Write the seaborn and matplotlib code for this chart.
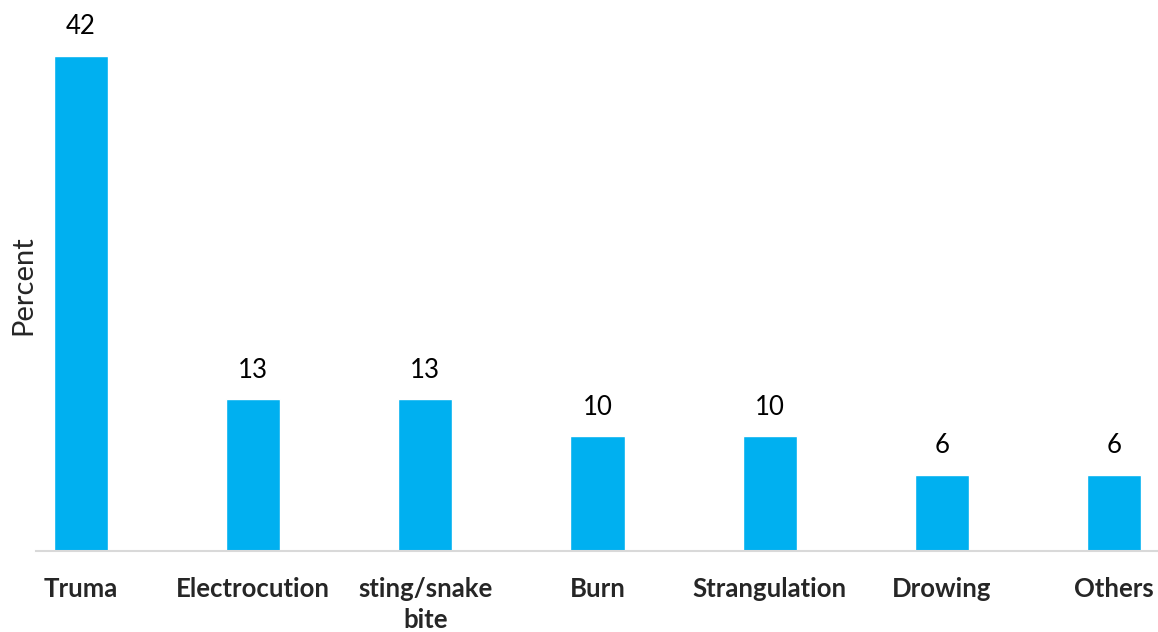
import matplotlib
matplotlib.use("Agg")
import matplotlib.pyplot as plt
import seaborn as sns
import pandas as pd

categories = ["Truma", "Electrocution", "sting/snake\nbite", "Burn", "Strangulation", "Drowing", "Others"]
values = [42.1, 12.9, 12.9, 9.75, 9.75, 6.5, 6.5]
value_labels = ["42", "13", "13", "10", "10", "6", "6"]

sns.set_theme(style="white")
plt.rcParams["font.family"] = ["Lato", "DejaVu Sans"]

df = pd.DataFrame({"cause": categories, "pct": values})

fig = plt.figure(figsize=(11.58, 6.32), dpi=100)
ax = fig.add_axes([36 / 1158, 81 / 632, 1 - 36 / 1158, 551 / 632])

sns.barplot(data=df, x="cause", y="pct", color="#00B0F0", saturation=1,
            width=0.314, ax=ax)

for i, (v, lab) in enumerate(zip(values, value_labels)):
    ax.text(i, v + 1.85, lab, ha="center", va="baseline", fontsize=18.5, color="black")

ax.set_xlim(-0.261, 6.255)
ax.set_ylim(0, 46.85)
ax.set_yticks([])
ax.set_xlabel("")
ax.set_ylabel("Percent", fontsize=21)
ax.yaxis.set_label_coords(0.0, 0.483)
ax.tick_params(axis="x", length=0, pad=19, labelsize=18.5)
for lbl in ax.get_xticklabels():
    lbl.set_fontweight("bold")
    lbl.set_verticalalignment("top")
    lbl.set_linespacing(1.35)

for s in ["top", "right", "left"]:
    ax.spines[s].set_visible(False)
ax.spines["bottom"].set_color("#D9D9D9")
ax.spines["bottom"].set_linewidth(1.5)

fig.savefig("out.png", dpi=100)
